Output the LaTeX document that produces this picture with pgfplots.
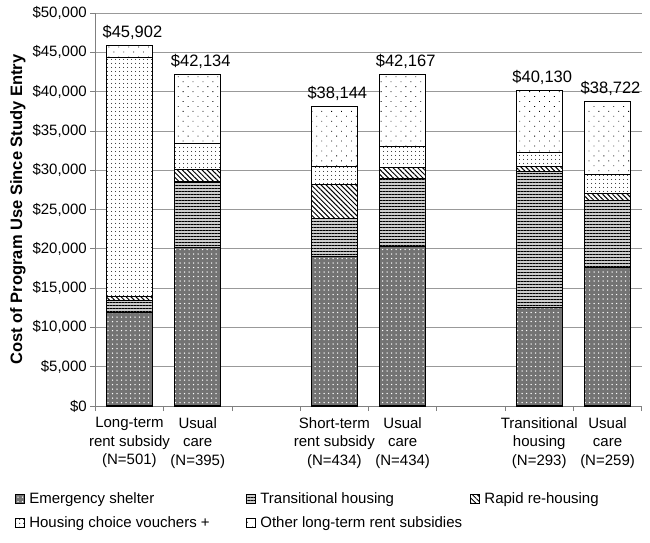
\documentclass[border=0pt]{standalone}
\usepackage{pgfplots}
\pgfplotsset{compat=1.18}
\usepackage{pgfplotstable}
\usepackage{fontspec}
\setmainfont{Liberation Sans}
\usetikzlibrary{patterns.meta}

\pgfplotstableread{
x es th rr hcv oth top lab
0 11900 1500 500 30450 1552 1 {\$45,902}
1 20200 8300 1600 3300 8734 1 {\$42,134}
3 19000 4900 4300 2300 7644 1 {\$38,144}
4 20300 8600 1500 2600 9167 1 {\$42,167}
6 12500 17300 700 1800 7830 1 {\$40,130}
7 17600 8500 900 2400 9322 1 {\$38,722}
}\costdata

\begin{document}
\begin{tikzpicture}
\begin{axis}[
  scale only axis, width=546.4pt, height=393pt,
  ybar stacked, bar width=0.67,
  xmin=-0.5, xmax=7.5, ymin=0, ymax=50000,
  axis x line*=bottom, axis y line*=left,
  axis line style={draw=gray, line width=0.8pt},
  xtick={0,1,3,4,6,7},
  xticklabels={{Long-term\\rent subsidy\\(N=501)},{Usual\\care\\(N=395)},{Short-term\\rent subsidy\\(N=434)},{Usual\\care\\(N=434)},{Transitional\\housing\\(N=293)},{Usual\\care\\(N=259)}},
  xticklabel style={align=center, font=\fontsize{15}{18.5}\selectfont, yshift=-3pt},
  major x tick style={draw=none},
  minor xtick={-0.5,0.5,1.5,2.5,3.5,4.5,5.5,6.5,7.5},
  minor tick length=5pt,
  minor x tick style={draw=gray, line width=0.8pt},
  ytick={0,5000,...,50000},
  ymajorgrids, grid style={draw=gray!80, line width=0.8pt},
  ytick style={draw=gray, line width=0.8pt},
  tick align=outside, major tick length=5pt,
  scaled y ticks=false,
  yticklabel={\$\pgfmathprintnumber{\tick}},
  /pgf/number format/fixed, /pgf/number format/1000 sep={,},
  /pgf/number format/assume math mode=true,
  yticklabel style={font=\fontsize{15}{18}\selectfont},
  ylabel={Cost of Program Use Since Study Entry},
  ylabel style={font=\bfseries\fontsize{16.5}{20}\selectfont},
  legend style={at={(rel axis cs:-0.147,-0.215)}, anchor=north west, draw=none,
    fill=none, inner sep=0pt, font=\fontsize{15}{18}\selectfont,
    legend columns=3, row sep=7.5pt,
    /tikz/every odd column/.append style={column sep=2pt}},
  legend cell align=left,
  legend image code/.code={\draw[#1] (0pt,-4.5pt) rectangle (9pt,4.5pt);},
  every axis plot/.append style={draw=black, line width=1.1pt},
]
\addplot[fill=black!55, postaction={pattern color=white, pattern={Dots[distance=4.5pt, radius=0.75pt]}}]
  table[x=x, y=es] {\costdata};
\addlegendentry{\makebox[215pt][l]{Emergency shelter}}
\addplot[fill=gray!40, postaction={pattern color=black, pattern={Lines[angle=0, distance=3pt, line width=1pt]}}]
  table[x=x, y=th] {\costdata};
\addlegendentry{\makebox[208pt][l]{Transitional housing}}
\addplot[fill=white, postaction={pattern color=black, pattern={Lines[angle=-45, distance=3.5pt, line width=1pt]}}]
  table[x=x, y=rr] {\costdata};
\addlegendentry{Rapid re-housing}
\addplot[fill=white, postaction={pattern color=black, pattern={Dots[distance=4pt, radius=0.6pt]}}]
  table[x=x, y=hcv] {\costdata};
\addlegendentry{\makebox[215pt][l]{Housing choice vouchers +}}
\addplot[fill=white, postaction={pattern color=black, pattern={Dots[distance=7pt, radius=0.6pt, angle=45]}}]
  table[x=x, y=oth] {\costdata};
\addlegendentry{\makebox[208pt][l]{Other long-term rent subsidies}}
\addplot[draw=none, fill=none,
  nodes near coords, point meta=explicit symbolic,
  nodes near coords style={font=\fontsize{16.5}{19}\selectfont, anchor=south, yshift=2pt, xshift=3pt, text=black}]
  table[x=x, y=top, meta=lab] {\costdata};
\coordinate (O) at (rel axis cs:0,0);
\end{axis}
\pgfresetboundingbox
\path[use as bounding box] ([shift={(-95.3pt,-136pt)}]O) rectangle ([shift={(554.7pt,406pt)}]O);
\end{tikzpicture}
\end{document}
